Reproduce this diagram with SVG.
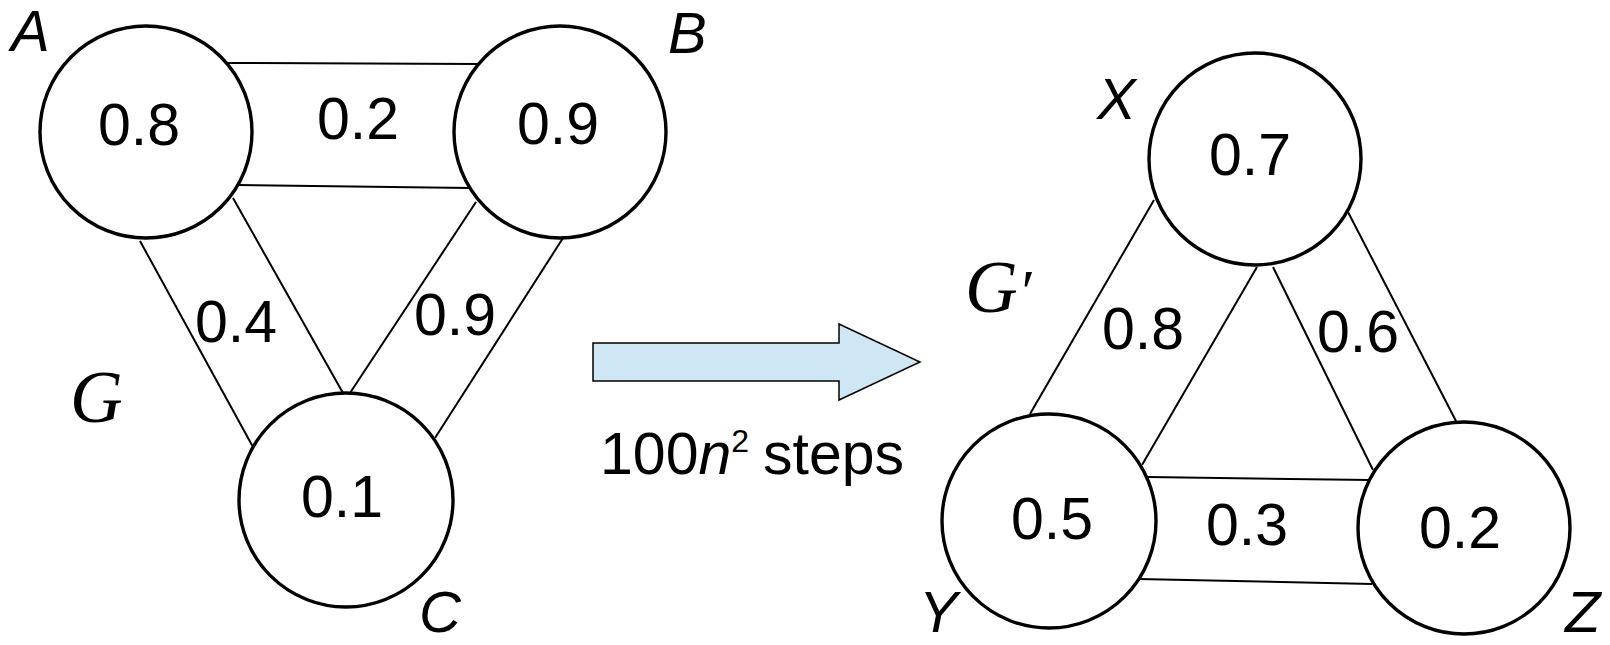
<svg xmlns="http://www.w3.org/2000/svg" width="1610" height="645" viewBox="0 0 1610 645">
<style>
.node{fill:#fff;stroke:#000;stroke-width:3.4}
.edge line{stroke:#000;stroke-width:2}
.num{font-family:"Liberation Sans",Arial,sans-serif;font-size:59px;fill:#000;text-anchor:middle}
.lbl{font-family:"Liberation Sans",Arial,sans-serif;font-size:58px;font-style:italic;fill:#000}
.math{font-family:"Liberation Serif","Times New Roman",serif;font-size:73px;font-style:italic;fill:#000}
.arrow{fill:#cfe6f4;stroke:#000;stroke-width:1.5}
</style>
<g id="connectors" class="edge">
<line x1="226" y1="63" x2="478" y2="64"/>
<line x1="238" y1="185" x2="470" y2="188"/>
<line x1="140" y1="241" x2="253" y2="447"/>
<line x1="233" y1="198" x2="343" y2="393"/>
<line x1="476" y1="202" x2="350" y2="393"/>
<line x1="563" y1="238" x2="435" y2="438"/>
<line x1="1154" y1="200" x2="1030" y2="414"/>
<line x1="1257" y1="267" x2="1142" y2="465"/>
<line x1="1273" y1="267" x2="1373" y2="470"/>
<line x1="1348" y1="212" x2="1456" y2="421"/>
<line x1="1148" y1="477" x2="1370" y2="480"/>
<line x1="1138" y1="579" x2="1372" y2="584"/>
</g>
<g id="node-A"><circle class="node" cx="146" cy="132" r="106"/><text class="num" x="139" y="145">0.8</text><text class="lbl" x="11" y="51">A</text></g>
<g id="node-B"><circle class="node" cx="560" cy="132" r="106"/><text class="num" x="558" y="144">0.9</text><text class="lbl" x="668" y="53">B</text></g>
<g id="node-C"><circle class="node" cx="346" cy="500" r="107"/><text class="num" x="342" y="517">0.1</text><text class="lbl" x="419" y="632">C</text></g>
<g id="node-X"><circle class="node" cx="1255" cy="159" r="106"/><text class="num" x="1250" y="175">0.7</text><text class="lbl" x="1097" y="119">X</text></g>
<g id="node-Y"><circle class="node" cx="1049" cy="521" r="107"/><text class="num" x="1052" y="539">0.5</text><text class="lbl" x="919" y="632">Y</text></g>
<g id="node-Z"><circle class="node" cx="1464" cy="528" r="106"/><text class="num" x="1460" y="548">0.2</text><text class="lbl" x="1565" y="632">Z</text></g>
<g id="edge-labels">
<text class="num" x="358" y="139">0.2</text>
<text class="num" x="236" y="342">0.4</text>
<text class="num" x="455" y="335">0.9</text>
<text class="num" x="1143" y="349">0.8</text>
<text class="num" x="1358" y="352">0.6</text>
<text class="num" x="1247" y="545">0.3</text>
</g>
<g id="graph-labels">
<text class="math" x="70" y="422">G</text>
<text class="math" x="965" y="312">G<tspan font-size="62">′</tspan></text>
</g>
<g id="transform">
<polygon class="arrow" points="593,343 839,343 839,324 920,362 839,400 839,381 593,381"/>
<text class="num" style="text-anchor:start" x="600" y="474">100<tspan font-style="italic">n</tspan><tspan font-size="32" dy="-22">2</tspan><tspan x="763" dy="22">steps</tspan></text>
</g>
</svg>
